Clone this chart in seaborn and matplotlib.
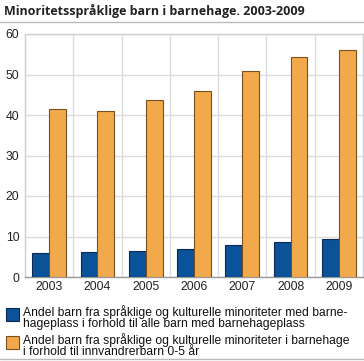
import pandas as pd
import seaborn as sns
import matplotlib.pyplot as plt
from matplotlib.lines import Line2D

# data
years = ["2003", "2004", "2005", "2006", "2007", "2008", "2009"]
share_all = [6.0, 6.1, 6.5, 6.8, 7.8, 8.7, 9.4]
share_immigrant = [41.5, 41.1, 43.8, 46.0, 50.9, 54.4, 56.0]
series_labels = [
    "Andel barn fra språklige og kulturelle minoriteter med barne-\nhageplass i forhold til alle barn med barnehageplass",
    "Andel barn fra språklige og kulturelle minoriteter i barnehage\ni forhold til innvandrerbarn 0-5 år",
]
colors = ["#0b5298", "#f2a94b"]
edges = ["#0a2a55", "#7a5020"]

df = pd.DataFrame({
    "year": years * 2,
    "value": share_all + share_immigrant,
    "series": [series_labels[0]] * len(years) + [series_labels[1]] * len(years),
})

sns.set_theme(style="white")
plt.rcParams["font.family"] = ["Liberation Sans", "DejaVu Sans"]

fig = plt.figure(figsize=(3.64, 3.61), dpi=100)
ax = fig.add_axes([25 / 364, 84 / 361, 338 / 364, 243 / 361])

sns.barplot(data=df, x="year", y="value", hue="series", palette=colors,
            saturation=1, width=0.7, gap=0, ax=ax, legend=False, zorder=3)

# dark bar outlines like the reference
for i, cont in enumerate(ax.containers):
    for bar in cont:
        bar.set_edgecolor(edges[i])
        bar.set_linewidth(0.8)

ax.set_ylim(0, 60)
ax.set_xlim(-0.5, len(years) - 0.5)
ax.set_yticks(range(0, 61, 10))
ax.set_xticks([x + 0.5 for x in range(len(years) - 1)], minor=True)
ax.grid(axis="y", which="major", color="#dcdcdc", lw=1, zorder=0)
ax.grid(axis="x", which="minor", color="#dcdcdc", lw=1, zorder=0)
ax.set_axisbelow(True)
ax.tick_params(axis="both", which="both", length=0, labelsize=8.8, colors="#222222")
ax.tick_params(axis="y", pad=4)
ax.tick_params(axis="x", pad=3)
ax.set_xlabel("")
ax.set_ylabel("")
for s in ax.spines.values():
    s.set_color("#cfcfcf")
    s.set_linewidth(1)
ax.spines["bottom"].set_color("#999999")

# title and rules
fig.text(4 / 364, 1 - 15 / 361, "Minoritetsspråklige barn i barnehage. 2003-2009",
         fontsize=9, fontweight="bold", family=["Open Sans", "DejaVu Sans"],
         color="#222222", va="baseline")
fig.add_artist(Line2D([0, 1], [1 - 22 / 361, 1 - 22 / 361], color="#bbbbbb", lw=1))
fig.add_artist(Line2D([0, 1], [1 - 359 / 361, 1 - 359 / 361], color="#bbbbbb", lw=1))

# legend below the chart, laid out by hand: swatch + two-line label
W, H = 364, 361
for i, label in enumerate(series_labels):
    top = 305 + i * 28
    fig.add_artist(plt.Rectangle((6 / W, 1 - (top + 16) / H), 13 / W, 13 / H,
                                 facecolor=colors[i], edgecolor=edges[i], lw=0.8,
                                 transform=fig.transFigure))
    fig.text(23 / W, 1 - top / H, label, fontsize=8.7, color="#111111",
             va="top", ha="left", linespacing=0.86)

plt.savefig("out.png", dpi=100)
